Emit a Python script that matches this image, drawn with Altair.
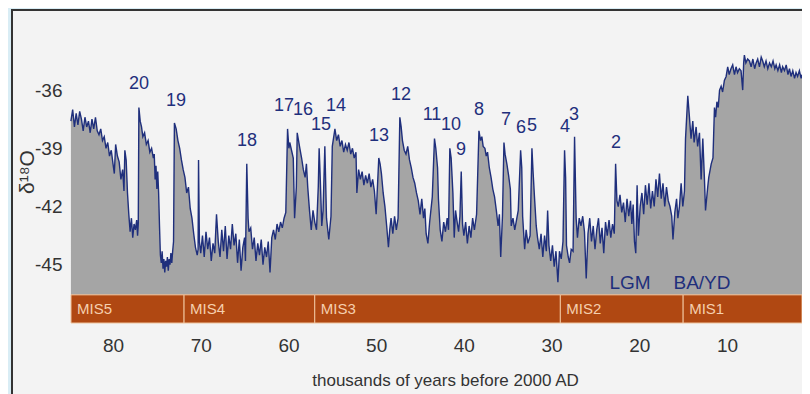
import altair as alt
import pandas as pd

# Greenland ice-core delta-18O record (ka before 2000 AD, per mil)
ages = [
    84.8, 84.6, 84.4, 84.2, 84.0, 83.8, 83.6, 83.4, 83.2, 83.0, 82.8, 82.6, 82.4, 82.2, 82.0,
    81.8, 81.6, 81.4, 81.2, 81.0, 80.8, 80.6, 80.4, 80.2, 80.0, 79.85, 79.7, 79.5, 79.3, 79.1,
    78.9, 78.75, 78.65, 78.5, 78.35, 78.2, 78.05, 77.9, 77.75, 77.6, 77.45, 77.3, 77.2, 77.12,
    77.05, 76.9, 76.75, 76.6, 76.4, 76.2, 76.0, 75.8, 75.6, 75.4, 75.3, 75.2, 75.1, 75.0, 74.9,
    74.8, 74.7, 74.6, 74.5, 74.4, 74.3, 74.2, 74.1, 74.0, 73.9, 73.8, 73.7, 73.6, 73.5, 73.4,
    73.3, 73.2, 73.1,
    73.0, 72.8, 72.6, 72.4, 72.2, 72.0, 71.8, 71.6, 71.4, 71.2, 71.0, 70.8, 70.6, 70.4, 70.3,
    70.25, 70.15, 70.0, 69.8, 69.6, 69.4, 69.2, 69.0, 68.8, 68.6, 68.4, 68.2, 68.0, 67.8, 67.6,
    67.4, 67.2, 67.0, 66.8, 66.6, 66.4, 66.2, 66.0, 65.8, 65.6, 65.4, 65.2, 65.0, 64.9,
    64.75, 64.6, 64.5, 64.3, 64.1, 63.9, 63.7, 63.5, 63.3, 63.1, 62.9, 62.7, 62.5, 62.3, 62.1,
    61.9, 61.7, 61.5, 61.3, 61.1, 60.9, 60.7, 60.5, 60.3,
    60.1, 59.95, 59.85, 59.65, 59.45, 59.3, 59.1, 59.0, 58.85, 58.7, 58.5, 58.3, 58.1, 57.95,
    57.8, 57.6, 57.4, 57.2, 57.0, 56.8, 56.6, 56.5, 56.4, 56.2, 56.05, 55.85, 55.66, 55.4,
    55.15, 55.0, 54.7, 54.5, 54.3, 54.1, 53.9, 53.7, 53.5, 53.3, 53.1, 52.9, 52.7, 52.5, 52.3,
    52.2, 52.0, 51.8, 51.6, 51.4, 51.2, 51.0, 50.8, 50.6, 50.4, 50.2, 50.0,
    49.7, 49.55, 49.4, 49.2, 49.0, 48.8, 48.6, 48.45, 48.3, 48.1, 47.9, 47.7, 47.5,
    47.3, 47.15, 47.0, 46.8, 46.6, 46.4, 46.2, 46.0, 45.8, 45.6, 45.4, 45.2, 45.0, 44.8, 44.6,
    44.45, 44.3, 44.1, 43.9, 43.6,
    43.35, 43.2, 43.0, 42.9, 42.7, 42.5, 42.3, 42.1, 41.9, 41.75,
    41.6, 41.45, 41.25, 41.1, 40.95, 40.8, 40.6, 40.45,
    40.3, 40.15, 40.0, 39.8, 39.6, 39.4, 39.2, 39.0, 38.8, 38.55,
    38.28, 38.1, 37.95, 37.8, 37.6, 37.45, 37.3, 37.1, 36.9, 36.7, 36.5, 36.3, 36.1, 35.95,
    35.8, 35.6,
    35.43, 35.3, 35.1, 34.9, 34.7, 34.6, 34.4, 34.2, 34.0, 33.8,
    33.53, 33.4, 33.3, 33.07, 32.9, 32.7, 32.45,
    32.24, 32.1, 31.95, 31.75, 31.6, 31.4, 31.2, 31.0, 30.8, 30.6, 30.45, 30.3, 30.1, 29.9,
    29.7, 29.5, 29.28, 29.1, 28.9, 28.7,
    28.52, 28.4, 28.3, 28.1, 27.95, 27.76, 27.55,
    27.38, 27.2, 27.05, 26.85, 26.65, 26.45, 26.25, 26.05, 25.85, 25.65, 25.45, 25.25, 25.05,
    24.85, 24.65, 24.45, 24.25, 24.05, 23.85, 23.65, 23.45, 23.25, 23.05, 22.85,
    22.7, 22.55, 22.4, 22.2, 22.0, 21.8, 21.6, 21.4, 21.2, 21.0, 20.85, 20.7, 20.55, 20.4,
    20.25, 20.1, 19.9, 19.7, 19.5, 19.3, 19.1, 18.9, 18.7, 18.5, 18.3, 18.1, 17.9, 17.7, 17.5,
    17.3, 17.1, 16.9, 16.7, 16.5, 16.3, 16.16, 15.95, 15.75, 15.6, 15.42, 15.23, 15.04, 14.85,
    14.73, 14.47, 14.3, 14.1, 13.9, 13.75, 13.52, 13.35, 13.14, 12.95, 12.76, 12.57, 12.45,
    12.2, 12.08, 11.8, 11.6,
    11.43, 11.3, 11.15, 11.0, 10.85, 10.67, 10.5, 10.3, 10.1, 9.92, 9.75, 9.55, 9.35, 9.15,
    8.97, 8.8, 8.59, 8.4, 8.21, 8.1, 8.02, 7.85, 7.65, 7.44, 7.25, 7.05, 6.85, 6.68, 6.5, 6.3,
    6.1, 5.93, 5.75, 5.55, 5.35, 5.15, 4.95, 4.75, 4.55, 4.4, 4.2, 4.0, 3.8, 3.66, 3.45, 3.25,
    3.05, 2.88, 2.7, 2.5, 2.3, 2.13, 1.95, 1.75, 1.55, 1.45,
]
d18o = [
    -37.6, -37.0, -37.9, -37.2, -37.8, -37.1, -37.5, -38.1, -37.4, -37.9, -37.6, -38.2, -37.5, -38.0, -37.4,
    -38.1, -38.3, -38.0, -38.6, -38.4, -39.0, -38.7, -39.4, -39.1, -39.8, -40.3, -38.8, -39.4, -39.7, -40.6,
    -40.1, -41.2, -39.1, -39.6, -41.3, -42.4, -43.3, -42.6, -43.6, -42.9, -43.2, -42.7, -43.5, -42.9,
    -36.9, -37.6, -37.9, -38.4, -38.2, -38.8, -38.6, -39.2, -39.0, -39.5, -39.3, -40.6, -39.9, -41.1, -40.2,
    -41.3, -43.0, -44.5, -44.9, -44.3, -45.2, -44.7, -45.4, -44.8, -45.1, -44.6, -45.3, -44.7, -45.0, -44.4,
    -44.9, -44.3, -43.8,
    -37.7, -38.0, -38.6, -39.0, -39.6, -40.1, -40.5, -41.3, -41.0, -42.1, -42.6, -43.4, -44.1, -44.5, -44.2,
    -39.6, -43.8, -44.4, -43.5, -44.6, -43.3, -44.2, -43.6, -44.8, -43.9, -44.4, -42.4, -43.8, -44.6, -43.2,
    -44.3, -43.0, -44.7, -43.5, -44.2, -42.9, -44.0, -43.4, -44.9, -43.7, -45.3, -44.1, -43.6, -44.8,
    -39.8, -42.6, -43.3, -43.1, -44.2, -43.6, -44.8, -43.9, -44.5, -43.7, -45.0, -44.1, -44.6, -43.8, -45.4,
    -43.6, -43.2, -43.7, -42.9, -43.3, -42.8, -43.1, -42.6, -42.3,
    -38.0, -39.0, -38.7, -39.1, -39.5, -42.6, -41.0, -38.2, -38.6, -39.0, -39.5, -40.1, -40.5, -39.8,
    -41.0, -42.2, -43.2, -42.2, -42.8, -43.2, -41.0, -39.0, -40.2, -43.0, -42.2, -38.9, -42.6, -43.7,
    -42.5, -38.9, -38.0, -38.6, -38.3, -38.9, -38.6, -39.2, -38.8, -39.1, -38.7, -39.3, -39.0, -39.5, -39.2,
    -41.3, -40.1, -40.6, -40.2, -40.9, -40.4, -40.8, -40.3, -41.0, -40.6, -41.2, -42.4,
    -39.5, -39.8, -40.3, -41.3, -42.0, -43.0, -44.1, -43.2, -42.6, -43.4, -42.5, -43.2, -42.6,
    -37.4, -37.9, -38.6, -39.1, -39.3, -38.9, -39.6, -40.0, -40.5, -40.8, -41.3, -41.7, -42.4, -41.6, -42.6,
    -42.1, -43.4, -43.9, -42.8, -41.5,
    -38.5, -39.0, -40.0, -41.6, -43.2, -43.8, -42.8, -43.3, -42.6, -43.2,
    -39.0, -39.5, -41.3, -43.6, -42.2, -42.7, -43.3, -42.5,
    -40.2, -42.9, -43.5, -42.8, -43.9, -43.0, -43.6, -42.6, -43.2, -42.4,
    -38.1, -38.6, -38.4, -38.9, -39.0, -39.4, -39.2, -40.0, -40.5, -41.1, -41.5, -42.2, -43.0, -42.4,
    -44.6, -42.5,
    -38.7, -39.3, -39.8, -40.4, -41.1, -43.0, -42.6, -43.2, -42.7, -42.2,
    -39.1, -40.0, -42.5, -44.2, -43.2, -43.9, -43.5,
    -39.0, -40.3, -41.5, -43.0, -43.6, -44.2, -43.4, -44.6, -43.5, -44.3, -42.2, -44.0, -44.8, -44.0,
    -45.1, -44.3, -45.9, -44.3, -44.7, -43.8,
    -39.1, -40.5, -44.0, -44.6, -44.9, -44.2, -44.3,
    -38.4, -42.6, -43.6, -42.6, -43.0, -42.5, -43.3, -45.7, -43.4, -42.6, -43.8, -43.0, -44.2,
    -43.2, -42.6, -43.9, -43.1, -44.4, -42.8, -43.5, -42.7, -43.6, -42.9, -43.4,
    -39.8, -41.7, -42.0, -41.4, -42.3, -41.8, -42.8, -41.6, -42.5, -41.7, -42.9, -41.9, -43.8, -44.4,
    -40.9, -43.5, -42.0, -41.3, -42.4, -40.9, -41.9, -40.8, -42.1, -41.2, -42.0, -40.6, -41.5, -40.3, -41.6,
    -40.8, -42.0, -41.0, -41.7, -42.0, -42.5, -43.7, -42.3, -41.6, -42.6, -42.0, -40.8, -42.0, -41.2,
    -38.5, -36.3, -37.3, -38.5, -37.6, -38.7, -37.9, -38.9, -38.2, -40.6, -38.5, -40.6, -42.2,
    -41.0, -40.5, -39.8, -39.5,
    -36.9, -37.4, -36.6, -36.9, -36.0, -35.8, -36.1, -35.5, -35.3, -34.8, -35.2, -34.9, -34.7, -35.2,
    -34.8, -35.1, -34.9, -35.0, -36.0, -34.6, -34.2, -34.6, -34.4, -34.5, -34.8, -34.4, -34.9, -34.6, -34.4, -34.8,
    -34.3, -34.5, -34.8, -34.5, -34.9, -34.6, -34.8, -34.5, -34.9, -34.7, -35.0, -34.7, -35.1, -34.8, -35.0, -34.7,
    -35.2, -34.9, -35.3, -35.0, -35.4, -35.1, -35.3, -35.0, -35.4, -35.2,
]

# Dansgaard-Oeschger event numbers
ev_labels = ["20", "19", "18", "17", "16", "15", "14", "13", "12", "11", "10", "9", "8", "7", "6", "5", "4", "3", "2"]
ev_ages = [77.04, 72.82, 64.72, 60.5, 58.34, 56.29, 54.58, 49.67, 47.16, 43.63, 41.46, 40.32, 38.27, 35.19, 33.48, 32.23, 28.47, 27.44, 22.65]
ev_vals = [-35.69, -36.57, -38.63, -36.82, -37.03, -37.8, -36.82, -38.37, -36.26, -37.29, -37.8, -39.09, -37.03, -37.55, -37.96, -37.86, -37.91, -37.29, -38.73]

# Marine isotope stages
mis_names = ["MIS5", "MIS4", "MIS3", "MIS2", "MIS1"]
mis_start = [84.79, 71.9, 57.0, 29.0, 15.0]
mis_end = [71.9, 57.0, 29.0, 15.0, 1.45]

period_labels = ["LGM", "BA/YD"]
period_ages = [21.06, 12.85]
period_vals = [-45.95, -45.95]

x_ticks = [80, 70, 60, 50, 40, 30, 20, 10]
y_ticks = [-45, -42, -39, -36]

X_MIN, X_MAX = 1.45, 84.79
Y_MIN, Y_MAX = -48.0, -32.39
BASE = -46.55
BAR_TOP, BAR_BOTTOM = -46.55, -48.0

FONT = "Liberation Sans, Arial, sans-serif"
NAVY = "#1f2f7c"

series = pd.DataFrame({"age": ages, "d18o": d18o})
events = pd.DataFrame({"label": ev_labels, "age": ev_ages, "val": ev_vals})
mis = pd.DataFrame({"name": mis_names, "start": mis_start, "end": mis_end,
                    "top": [BAR_TOP] * 5, "bottom": [BAR_BOTTOM] * 5,
                    "mid": [(BAR_TOP + BAR_BOTTOM) / 2] * 5})
periods = pd.DataFrame({"label": period_labels, "age": period_ages, "val": period_vals})

xs = alt.Scale(domain=[X_MIN, X_MAX], reverse=True, nice=False, zero=False)
ys = alt.Scale(domain=[Y_MIN, Y_MAX], nice=False, zero=False)

frame = alt.Chart(pd.DataFrame({"k": [0]})).mark_rect(
    fill="#f3f3f3", stroke="#333333", strokeWidth=2
).encode(x=alt.value(-59), x2=alt.value(900), y=alt.value(-10), y2=alt.value(600))

area = alt.Chart(series).mark_area(color="#a5a5a5", opacity=1).encode(
    x=alt.X("age:Q", scale=xs, axis=alt.Axis(
        values=x_ticks, title="thousands of years before 2000 AD", grid=False, domain=False,
        ticks=False, labelPadding=13, titlePadding=17, zindex=1, titleX=374, titleAlign="center",
        labelFont=FONT, labelFontSize=19, labelColor="#333333",
        titleFont=FONT, titleFontSize=17, titleFontWeight="normal", titleColor="#333333")),
    y=alt.Y("d18o:Q", scale=ys, axis=alt.Axis(
        values=y_ticks, title="δ¹⁸O", grid=False, domain=False, ticks=False,
        labelPadding=9, titlePadding=-3, zindex=1, labelExpr="'' + datum.value",
        labelFont=FONT, labelFontSize=19, labelColor="#333333",
        titleFont=FONT, titleFontSize=21, titleFontWeight="normal", titleColor="#333333")),
    y2=alt.datum(BASE),
)

line = alt.Chart(series).mark_line(color=NAVY, strokeWidth=1.4).encode(
    x=alt.X("age:Q", scale=xs), y=alt.Y("d18o:Q", scale=ys)
)

bars = alt.Chart(mis).mark_rect(fill="#b04812", stroke="#efc39c", strokeWidth=1).encode(
    x=alt.X("start:Q", scale=xs), x2="end:Q",
    y=alt.Y("top:Q", scale=ys), y2="bottom:Q"
)

mis_text = alt.Chart(mis).mark_text(
    align="left", baseline="middle", dx=6, font=FONT, fontSize=15, color="#f5cfae"
).encode(x=alt.X("start:Q", scale=xs), y=alt.Y("mid:Q", scale=ys), text="name:N")

ev_text = alt.Chart(events).mark_text(
    align="center", baseline="middle", font=FONT, fontSize=18, color=NAVY
).encode(x=alt.X("age:Q", scale=xs), y=alt.Y("val:Q", scale=ys), text="label:N")

per_text = alt.Chart(periods).mark_text(
    align="center", baseline="middle", font=FONT, fontSize=19, color=NAVY
).encode(x=alt.X("age:Q", scale=xs), y=alt.Y("val:Q", scale=ys), text="label:N")

chart = alt.layer(frame, area, line, bars, mis_text, ev_text, per_text).properties(
    width=731, height=303,
    autosize=alt.AutoSizeParams(type="none"),
    padding={"left": 63, "top": 12, "right": 0, "bottom": 71},
    background="#d9edf5",
).configure_view(stroke=None)

chart.save("out.html", embed_options={"renderer": "svg", "actions": False})
